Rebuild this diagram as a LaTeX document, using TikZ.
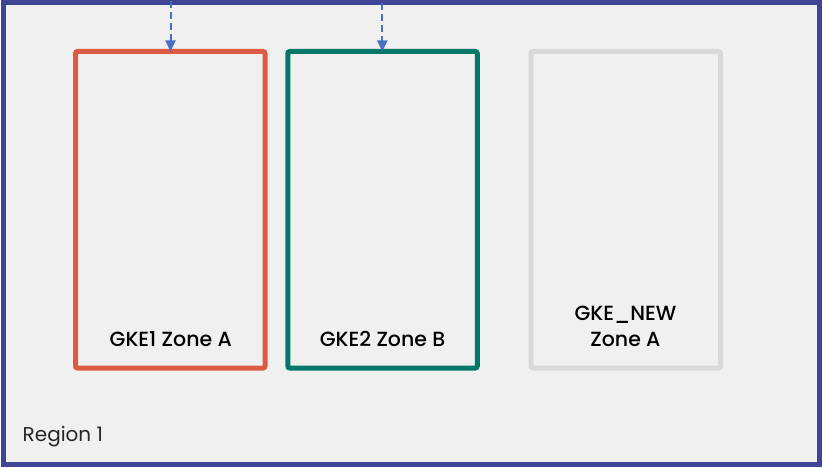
\documentclass[tikz,border=0pt]{standalone}
\usepackage{fontspec}
\setmainfont{Poppins}
\newfontfamily\medfont{Poppins Medium}
\usetikzlibrary{arrows.meta}
\definecolor{regionblue}{HTML}{3F4496}
\definecolor{bgcol}{HTML}{F0F0F0}
\definecolor{redz}{HTML}{DD5B43}
\definecolor{greenz}{HTML}{00786A}
\definecolor{grayz}{HTML}{D9D9D9}
\definecolor{arrowblue}{HTML}{4A6FC4}
\tikzset{
  zonebox/.style={line width=5pt, rounded corners=2pt, minimum width=189.5pt, minimum height=316.5pt, inner sep=0pt, outer sep=0pt},
  zonelabel/.style={font=\medfont\fontsize{20.5}{26}\selectfont, text=black, align=center, inner sep=0pt},
  feed/.style={draw=arrowblue, line width=2pt, dash pattern=on 7pt off 4pt, -{Triangle[length=11pt,width=10pt]}},
}
\begin{document}
\begin{tikzpicture}[x=1pt,y=-1pt]
\useasboundingbox (0,0) rectangle (823,468);
\node[draw=regionblue, fill=bgcol, line width=5pt, minimum width=816pt, minimum height=461.5pt, inner sep=0pt, outer sep=0pt] (region) at (411.5,233.75) {};
\node[zonebox, draw=redz] (z1) at (170.25,209.75) {};
\node[zonebox, draw=greenz] (z2) at (382.5,209.75) {};
\node[zonebox, draw=grayz] (z3) at (625.75,209.75) {};
\coordinate (s1) at (170.5,1);
\coordinate (s2) at (382.3,3);
\draw[feed] (s1) -- (s1 |- z1.north);
\draw[feed] (s2) -- (s2 |- z2.north);
\node[zonelabel, anchor=base] (l1) at (170.75,346.5) {GKE1 Zone A};
\node[zonelabel, anchor=base] (l2) at (382.5,346.5) {GKE2 Zone B};
\node[zonelabel, anchor=base] (l3) at (625.5,346.5) {GKE\_NEW\\Zone A};
\node[font=\fontsize{20}{24}\selectfont, anchor=base west, text=black!85, inner sep=0pt] (reg) at (22.5,441) {Region 1};
\end{tikzpicture}
\end{document}
